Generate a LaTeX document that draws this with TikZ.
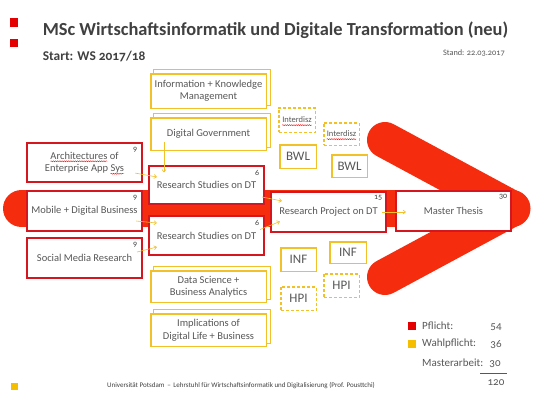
\documentclass[tikz,border=0pt]{standalone}
\usepackage{fontspec}
\setmainfont{Carlito}[Numbers=OldStyle]
\usetikzlibrary{arrows.meta,decorations.pathmorphing,backgrounds}
\definecolor{arrowred}{RGB}{246,44,14}
\definecolor{boxred}{RGB}{214,22,30}
\definecolor{sqred}{RGB}{228,0,0}
\definecolor{gold}{RGB}{242,192,40}
\definecolor{sqgold}{RGB}{245,190,0}
\definecolor{txt}{RGB}{88,88,88}
\definecolor{ttl}{RGB}{64,64,64}
\newsavebox\spellbox
\newcommand\spell[1]{\sbox\spellbox{#1}\usebox\spellbox\tikz[overlay,baseline=0pt,x=1pt,y=1pt]{\draw[red,line width=0.4pt,decorate,decoration={snake,amplitude=0.5pt,segment length=2.2pt}] (-\wd\spellbox,-2.2pt) -- (0pt,-2.2pt);}}
\begin{document}
\begin{tikzpicture}[x=1pt,y=-1pt,
  boxtext/.style={text=txt,font=\fontsize{10.5}{12.5}\selectfont,align=center,inner sep=0pt},
  redbox/.style={boxtext,draw=boxred,line width=1.6pt,fill=white,minimum width=115.5pt,minimum height=39.5pt},
  ybox/.style={boxtext,draw=gold,line width=1.5pt,fill=white,minimum width=115.5pt},
  smallbox/.style={boxtext,draw=gold,line width=1.5pt,fill=white,minimum width=36pt,minimum height=23pt,font=\fontsize{13}{15}\selectfont},
  dashbox/.style={smallbox,dash pattern=on 3pt off 2pt},
  credit/.style={text=ttl,font=\fontsize{8}{9}\selectfont,inner sep=0pt},
  conn/.style={draw=gold,line width=0.6pt,-{Straight Barb[length=2.5pt,width=4pt]}},
  backrect/.style={draw=gold,line width=1.5pt,fill=white},
  legtext/.style={text=txt,font=\fontsize{11}{12}\selectfont,inner sep=0pt}
]
\useasboundingbox (0,0) rectangle (534,400);

% header
\node[fill=sqred,minimum size=8.4pt,inner sep=0pt] (hs1) at (14.2,22.5) {};
\node[fill=sqred,minimum size=8.4pt,inner sep=0pt] (hs2) at (14.2,42.9) {};
\node[anchor=west,inner sep=0pt,text=ttl,font=\bfseries\fontsize{18.4}{20}\selectfont] (title) at (42.6,30) {MSc Wirtschaftsinformatik und Digitale Transformation (neu)};
\node[anchor=west,inner sep=0pt,text=ttl,font=\bfseries\fontsize{13.4}{15}\selectfont] (start) at (42.6,56) {Start: WS 2017/18};
\node[anchor=east,inner sep=0pt,text=txt,font=\fontsize{8.3}{9}\selectfont] (stand) at (505,53) {Stand: 22.03.2017};

% big red arrow
\draw[arrowred,line width=37pt,line cap=round] (21.5,208.5) -- (512,208.5);
\draw[arrowred,line width=36pt,line cap=round,line join=round] (385,140) -- (512,208.5) -- (385,277);

% red boxes
\node[redbox,minimum height=39.5pt] (arch) at (84.5,162.5) {\spell{Architectures} of\\Enterprise App \spell{Sys}};
\node[redbox,minimum height=40.5pt] (mob) at (84.5,211) {Mobile + Digital Business};
\node[redbox,minimum height=40.5pt] (soc) at (84.5,258) {Social Media Research};
\node[redbox,minimum height=38.5pt] (rs1) at (206.5,185) {\rule{0pt}{6pt}Research Studies on DT};
\node[redbox,minimum height=39.5pt] (rs2) at (206.5,235.5) {\rule{0pt}{6pt}Research Studies on DT};
\node[redbox,minimum height=40.5pt] (rp) at (328.5,212) {Research Project on DT};
\node[redbox,minimum height=40.5pt] (mt) at (453.5,211) {Master Thesis};

% credits
\node[credit] (c1) at ([shift={(-8,8)}]arch.north east) {9};
\node[credit] (c2) at ([shift={(-8,8)}]mob.north east) {9};
\node[credit] (c3) at ([shift={(-8,8)}]soc.north east) {9};
\node[credit] (c4) at ([shift={(-8,8)}]rs1.north east) {6};
\node[credit] (c5) at ([shift={(-8,8)}]rs2.north east) {6};
\node[credit] (c6) at ([shift={(-9,7)}]rp.north east) {15};
\node[credit] (c7) at ([shift={(-9,7)}]mt.north east) {30};

% yellow stacked boxes
\node[ybox,minimum height=34.5pt] (ik) at (208.5,91) {Information + Knowledge\\Management};
\node[ybox,minimum height=32.5pt] (dg) at (208.5,134) {Digital Government};
\node[ybox,minimum height=31.5pt] (ds) at (208.5,286.5) {Data Science +\\Business Analytics};
\node[ybox,minimum height=32.5pt] (im) at (208.5,330) {Implications of\\Digital Life + Business};
\begin{pgfonlayer}{background}
\fill[white] (0,0) rectangle (534,400);
\foreach \n in {ik,dg,ds,im}
  \draw[backrect] ([shift={(3.5,-3.5)}]\n.south west) rectangle ([shift={(3.5,-3.5)}]\n.north east);
\end{pgfonlayer}

% small boxes
\node[dashbox,minimum width=36.5pt,minimum height=24.5pt,font=\fontsize{8.5}{10}\selectfont] (id1) at (297,120) {\spell{Interdisz}};
\node[dashbox,minimum width=35.5pt,minimum height=22.5pt,font=\fontsize{8.5}{10}\selectfont] (id2) at (341.5,134) {\spell{Interdisz}};
\node[smallbox,minimum width=36.5pt,minimum height=23.5pt] (bwl1) at (298,156.5) {BWL};
\node[smallbox,minimum width=35.5pt,minimum height=22.5pt] (bwl2) at (349.5,166) {BWL};
\node[smallbox,minimum width=35.5pt,minimum height=23.5pt] (inf1) at (298.5,259.5) {INF};
\node[smallbox,minimum width=36.5pt,minimum height=21.5pt] (inf2) at (348,252.5) {INF};
\node[dashbox,minimum width=35.5pt,minimum height=23.5pt] (hpi1) at (298.5,298.5) {HPI};
\node[dashbox,minimum width=35.5pt,minimum height=23.5pt] (hpi2) at (341.5,285.5) {HPI};

% connectors
\draw[conn] ([shift={(-44.5,-9)}]dg.south) -- ([shift={(-42.5,7.5)}]rs1.north);
\draw[conn] ([shift={(-8,-10)}]arch.south east) -- ([shift={(9,-8)}]rs1.west);
\draw[conn] ([shift={(-7,10)}]mob.east) -- ([shift={(9,-12.5)}]rs2.west);
\draw[conn] ([shift={(-6,-6)}]soc.east) -- ([shift={(9,11.5)}]rs2.west);
\draw[conn] ([shift={(-3,12)}]rs1.east) -- ([shift={(12,-11)}]rp.west);
\draw[conn] ([shift={(-5,-6)}]rs2.east) -- ([shift={(10,9.5)}]rp.west);
\draw[conn] ([shift={(-5,0)}]rp.east) -- ([shift={(11,1)}]mt.west);

% legend
\node[fill=sqred,minimum size=8pt,inner sep=0pt] (ls1) at (412,326) {};
\node[fill=sqgold,minimum size=8pt,inner sep=0pt] (ls2) at (412,344) {};
\node[legtext,anchor=west] (l1) at (422,326) {Pflicht:};
\node[legtext,anchor=west] (l2) at (422,344) {Wahlpflicht:};
\node[legtext,anchor=west] (l3) at (422,363) {Masterarbeit:};
\node[legtext] (v1) at (496,327) {54};
\node[legtext] (v2) at (496,345) {36};
\node[legtext] (v3) at (495,364) {30};
\coordinate (sumL) at (480,373);
\coordinate (sumR) at (507,373);
\draw[txt,line width=0.6pt] (sumL) -- (sumR);
\node[legtext] (v4) at (496,383) {120};

% footer
\node[fill=sqgold,minimum size=7.5pt,inner sep=0pt] (fs) at (14.4,386.5) {};
\node[inner sep=0pt,text=ttl,font=\fontsize{7}{8}\selectfont] (foot) at (241,385.5) {Universität Potsdam \,–\, Lehrstuhl für Wirtschaftsinformatik und Digitalisierung (Prof. Pousttchi)};
\end{tikzpicture}
\end{document}
